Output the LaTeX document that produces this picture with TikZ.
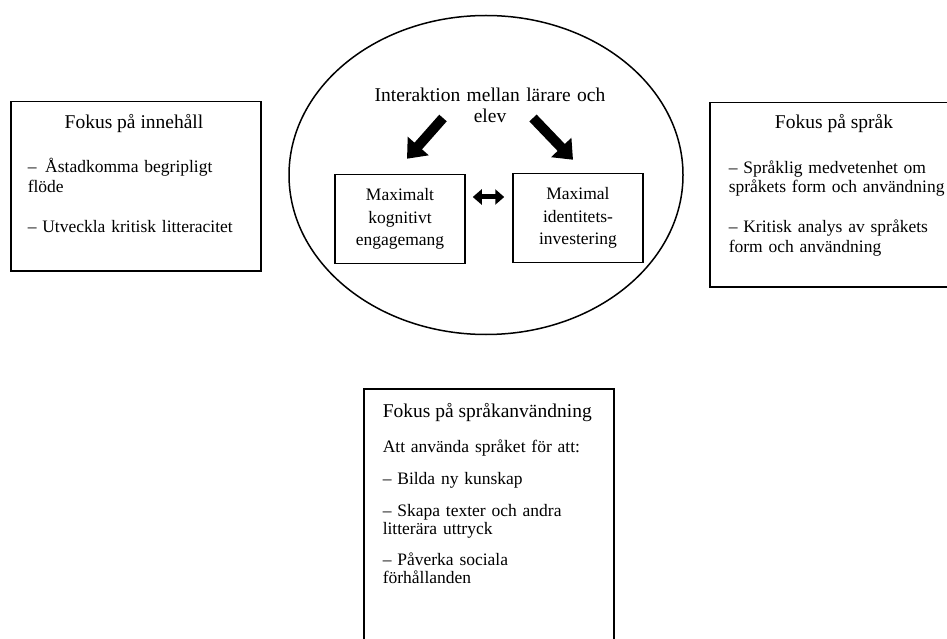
\documentclass[tikz,border=0pt]{standalone}
\usepackage{fontspec}
\setmainfont{Liberation Serif}
\usetikzlibrary{arrows.meta,positioning,shapes.geometric}

\begin{document}
\begin{tikzpicture}[x=1pt,y=-1pt,line width=1.5pt,
ruta/.style={draw,anchor=north west,minimum width=250pt,inner sep=0pt},
rubrik/.style={font=\fontsize{19.5}{22}\selectfont,inner sep=0pt},
punkt/.style={font=\fontsize{17.5}{#1}\selectfont,align=left,text width=240pt,anchor=base west,inner sep=0pt},
inre/.style={draw,minimum width=130pt,minimum height=89pt,align=center,font=\fontsize{17.5}{22.5}\selectfont},
fet/.style={line width=10pt,-{Triangle[length=17pt,width=27pt]}},
dubbel/.style={line width=5pt,{Triangle[length=9pt,width=15pt]}-{Triangle[length=9pt,width=15pt]}}]
\clip (0,0) rectangle (947,639);
\node[draw,ellipse,minimum width=394pt,minimum height=319pt] (krets) at (486,175) {};
\node[rubrik,align=center,font=\fontsize{19.5}{21}\selectfont,text width=260pt,anchor=base] (inter) at (490,102) {Interaktion mellan lärare och\\elev};
\node[inre] (kog) at (400,219) {Maximalt\\kognitivt\\engagemang};
\node[inre] (ins) at (578,218) {Maximal\\identitets-\\investering};
\coordinate (vstart) at (443,118);\coordinate (hstart) at (533,118);
\draw[fet] (vstart)--([shift={(7,-15)}]kog.north);
\draw[fet] (hstart)--([shift={(-5,-13)}]ins.north);
\draw[dubbel,shorten <=7pt,shorten >=8pt] ([yshift=22pt]kog.east)--([yshift=22pt]kog.east -| ins.west);
\node[ruta,minimum height=169pt] (inn) at (10,101) {};
\node[rubrik,anchor=base] (innrub) at (134,129) {Fokus på innehåll};
\node[punkt=20pt] (innpkt) at (27,173) {– \,Åstadkomma begripligt\\flöde\\[19pt]– Utveckla kritisk litteracitet};
\node[ruta,minimum width=260pt,minimum height=184pt] (spr) at (709,102) {};
\node[rubrik,anchor=base] (sprrub) at (834,129) {Fokus på språk};
\node[punkt=19pt] (sprpkt) at (728,174) {– Språklig medvetenhet om\\språkets form och användning\\[21pt]– Kritisk analys av språkets\\form och användning};
\node[ruta,minimum height=280pt] (anv) at (363,388) {};
\node[rubrik,anchor=base west] (anvrub) at (382,417) {Fokus på språkanvändning};
\node[punkt=18.5pt] (anvpkt) at (382,452) {Att använda språket för att:\\[14pt]– Bilda ny kunskap\\[13pt]– Skapa texter och andra\\litterära uttryck\\[12pt]– Påverka sociala\\förhållanden};
\end{tikzpicture}
\end{document}
